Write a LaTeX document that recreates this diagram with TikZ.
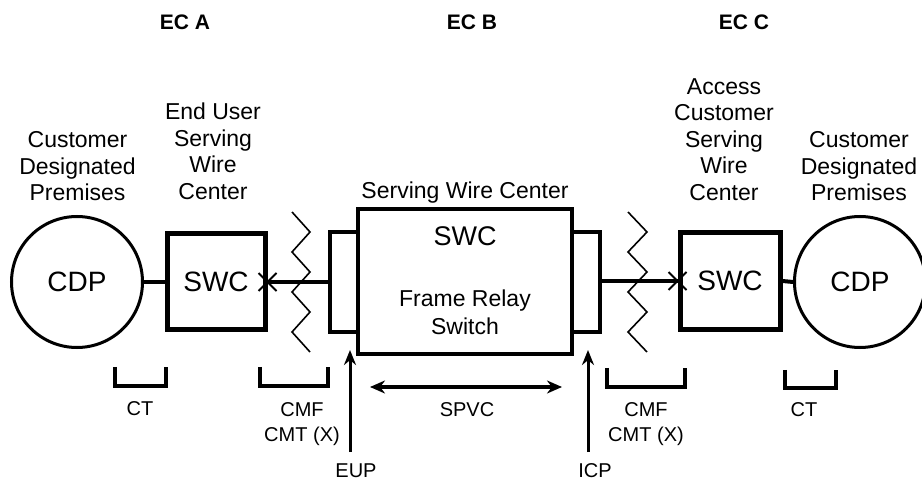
\documentclass[tikz,border=0pt]{standalone}
\usepackage{fontspec}
\setmainfont{Liberation Sans}
\usetikzlibrary{arrows.meta}
\begin{document}
\begin{tikzpicture}[x=1pt,y=-1pt,
  lbl/.style={font=\fontsize{23}{26.5}\selectfont, align=center, inner sep=0pt},
  sml/.style={font=\fontsize{20}{25}\selectfont, align=center, inner sep=0pt},
  eclbl/.style={font=\fontsize{21}{25}\selectfont\bfseries, inner sep=0pt},
  swcbox/.style={draw, line width=5pt, rectangle, inner sep=0pt, font=\fontsize{28}{32}\selectfont},
  framebox/.style={draw, line width=4pt, rectangle, inner sep=0pt},
  cdpcircle/.style={draw, line width=3pt, circle, inner sep=0pt, minimum size=131pt, font=\fontsize{28}{32}\selectfont},
  conn/.style={line width=4pt},
  bracket/.style={line width=4pt},
  zig/.style={line width=1.6pt, line join=miter},
  arr/.style={line width=3pt, -{Stealth[length=15pt,width=12pt]}},
  darr/.style={line width=3.5pt, {Stealth[length=15pt,width=13pt]}-{Stealth[length=15pt,width=13pt]}},
  xmark/.style={line width=2pt}
]
\useasboundingbox (0,0) rectangle (922,481);

% top labels
\node[eclbl] (eca) at (185,22) {EC A};
\node[eclbl] (ecb) at (472,22) {EC B};
\node[eclbl] (ecc) at (744,22) {EC C};

\node[lbl, anchor=north] (cdpLlbl) at (77.5,131.5) {Customer\\Designated\\Premises};
\node[lbl, anchor=north] (swcLlbl) at (213,103) {End User\\Serving\\Wire\\Center};
\node[lbl, anchor=base] (bigLbl) at (465,199) {Serving Wire Center};
\node[lbl, anchor=north] (swcRlbl) at (724,78) {Access\\Customer\\Serving\\Wire\\Center};
\node[lbl, anchor=north] (cdpRlbl) at (859,131.5) {Customer\\Designated\\Premises};

% main shapes
\node[cdpcircle] (cdpL) at (77,282) {CDP};
\node[swcbox, minimum width=98pt, minimum height=96pt] (swcL) at (216,282) {SWC};
\node[framebox, minimum width=28pt, minimum height=100pt] (portL) at (344,282) {};
\node[framebox, minimum width=214pt, minimum height=145pt] (big) at (465,281.5) {};
\node[framebox, minimum width=28pt, minimum height=100pt] (portR) at (586,282) {};
\node[swcbox, minimum width=100pt, minimum height=97pt] (swcR) at (730,281) {SWC};
\node[cdpcircle] (cdpR) at (860,282) {CDP};

\node[font=\fontsize{27}{32}\selectfont, inner sep=0pt, anchor=base] (bigswc) at (465,246) {SWC};
\node[lbl, anchor=north, font=\fontsize{23}{28}\selectfont] (frs) at (465,290) {Frame Relay\\Switch};

% connectors
\draw[conn] (cdpL.east) -- (swcL.west);
\draw[conn] (swcL.east) -- (portL.west |- swcL.east);
\draw[conn] (portR.east |- swcR.west) -- (swcR.west);
\draw[conn] (swcR.east) -- (cdpR.west);

% cross marks
\draw[xmark] ([shift={(-9,-9)}]swcL.east) -- ([shift={(9,9)}]swcL.east);
\draw[xmark] ([shift={(-9,9)}]swcL.east) -- ([shift={(9,-9)}]swcL.east);
\draw[xmark] ([shift={(-9,-9)}]swcR.west) -- ([shift={(9,9)}]swcR.west);
\draw[xmark] ([shift={(-9,9)}]swcR.west) -- ([shift={(9,-9)}]swcR.west);

% zigzags
\draw[zig] (292,212) -- (310,232) -- (292,252) -- (310,272) -- (292,292) -- (310,312) -- (292,332) -- (310,352);
\draw[zig] (628,212) -- (647,232) -- (628,252) -- (647,272) -- (628,292) -- (647,312) -- (628,332) -- (647,352);

% brackets
\draw[bracket] (115,367) -- (115,386) -- (166,386) -- (166,367);
\draw[bracket] (260,367) -- (260,386) -- (328,386) -- (328,367);
\draw[bracket] (607,368) -- (607,387) -- (685,387) -- (685,368);
\draw[bracket] (785,370) -- (785,388) -- (836,388) -- (836,370);

% bottom labels
\node[sml, anchor=base] (ctL) at (140,415) {CT};
\node[sml, anchor=north] (cmfL) at (302,402.5) {CMF\\CMT (X)};
\node[sml, anchor=base] (eup) at (356,477) {EUP};
\node[sml, anchor=base] (spvc) at (467,417) {SPVC};
\node[sml, anchor=base] (icp) at (595,477) {ICP};
\node[sml, anchor=north] (cmfR) at (646,402.5) {CMF\\CMT (X)};
\node[sml, anchor=base] (ctR) at (804,417) {CT};

% arrows
\coordinate (eupBot) at (350,452);
\coordinate (eupTip) at (350,350);
\coordinate (icpBot) at (588,452);
\coordinate (icpTip) at (588,350);
\draw[arr] (eupBot) -- (eupTip);
\draw[arr] (icpBot) -- (icpTip);
\coordinate (spvcL) at (370,387);
\coordinate (spvcR) at (562,387);
\draw[darr] (spvcL) -- (spvcR);
\end{tikzpicture}
\end{document}
